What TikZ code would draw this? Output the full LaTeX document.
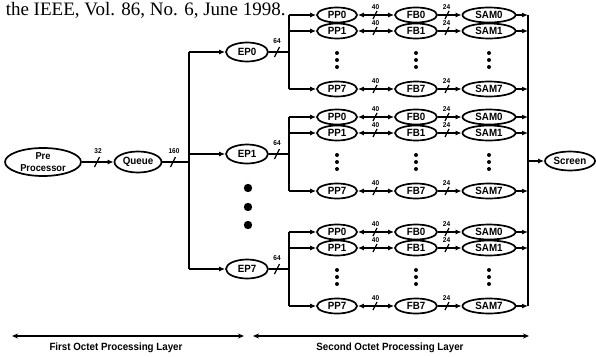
\documentclass[tikz,border=0pt]{standalone}
\usepackage{fontspec}
\setmainfont{Liberation Serif}
\newfontfamily\lab[FakeStretch=0.93]{Liberation Sans}
\usetikzlibrary{arrows.meta,shapes.geometric}
\begin{document}
\begin{tikzpicture}[x=1pt,y=-1pt,line width=1.5pt,
  ov/.style={ellipse,draw,line width=1.7pt,inner sep=0pt,font=\lab\bfseries\fontsize{10.5}{10.5}\selectfont},
  num/.style={font=\lab\bfseries\fontsize{7}{7}\selectfont,inner sep=0pt},
  slashmark/.style={line width=1.2pt},
  arr/.style={-{Latex[length=6pt,width=5pt]}},
  darr/.style={{Latex[length=6pt,width=5pt]}-{Latex[length=6pt,width=5pt]}},
  layer/.style={{Stealth[length=6pt,width=5pt]}-{Stealth[length=6pt,width=5pt]},line width=1.2pt},
  laytext/.style={font=\lab\bfseries\fontsize{10.5}{10.5}\selectfont,inner sep=0pt},
  bigdot/.style={fill=black,draw=none},
  smalldot/.style={fill=black,draw=none}]
\useasboundingbox (0,0) rectangle (596,356);

\node[anchor=base west,inner sep=0pt,font=\fontsize{19}{19}\selectfont] (title) at (5,16) {the IEEE, Vol. 86, No. 6, June 1998.};

% main chain
\node[ov,minimum width=76pt,minimum height=28pt,align=center,font=\lab\bfseries\fontsize{10}{12.5}\selectfont] (pre) at (43,162) {Pre\\Processor};
\node[ov,minimum width=47pt,minimum height=21pt] (queue) at (138,162) {Queue};
\draw[arr] (pre) -- (queue);
\draw[slashmark] (94.5,167) -- (99.5,157);
\node[num] (n32) at (98,151) {32};

\coordinate (bq) at (189,162);
\draw (queue) -- (bq);
\draw[slashmark] (170.5,167) -- (175.5,157);
\node[num] (n160) at (174,151) {160};

\coordinate (btop) at (189,52);
\coordinate (bbot) at (189,269);
\draw (btop) -- (bbot);

% groups
\foreach \g/\b/\ey in {0/15/52,1/117/154,7/232/269}{
  \node[ov,minimum width=42pt,minimum height=19pt] (ep\g) at (247,\ey) {EP\g};
  \coordinate (bl\g) at (189,\ey);
  \draw[arr] (bl\g) -- (ep\g);
  \coordinate (br\g) at (289,\ey);
  \draw (ep\g) -- (br\g);
  \draw[slashmark] (274.5,\ey+5) -- (279.5,\ey-5);
  \node[num] (n64\g) at (277,\ey-11) {64};
  \coordinate (bt\g) at (289,\b);
  \coordinate (bb\g) at (289,\b+74);
  \draw (bt\g) -- (bb\g);
  \foreach \r/\o in {0/0,1/16,7/74}{
    \coordinate (s\g\r) at (289,\b+\o);
    \node[ov,minimum width=40pt,minimum height=15pt] (pp\g\r) at (337,\b+\o) {PP\r};
    \node[ov,minimum width=42pt,minimum height=15pt] (fb\g\r) at (416,\b+\o) {FB\r};
    \node[ov,minimum width=53pt,minimum height=15pt] (sam\g\r) at (489,\b+\o) {SAM\r};
    \coordinate (e\g\r) at (528,\b+\o);
    \draw[arr] (s\g\r) -- (pp\g\r);
    \draw[darr] (pp\g\r) -- (fb\g\r);
    \draw[arr] (fb\g\r) -- (sam\g\r);
    \draw[arr] (sam\g\r) -- (e\g\r);
    \draw[slashmark] (373,\b+\o+4) -- (377,\b+\o-4);
    \node[num] (n40\g\r) at (375.5,\b+\o-8) {40};
    \draw[slashmark] (445,\b+\o+4) -- (449,\b+\o-4);
    \node[num] (n24\g\r) at (446.5,\b+\o-8) {24};
  }
  \foreach \x in {337,416,489}{
    \foreach \d in {38,45,52}{
      \fill[smalldot] (\x,\b+\d) circle (2pt);
    }
  }
}

% big dots
\foreach \d in {188,207,225}{ \fill[bigdot] (248,\d) circle (4.2pt); }

% right bus and screen
\coordinate (rtop) at (528,15);
\coordinate (rbot) at (528,306);
\draw (rtop) -- (rbot);
\coordinate (rs) at (528,161);
\node[ov,minimum width=50pt,minimum height=19pt] (screen) at (570,161) {Screen};
\draw[arr] (rs) -- (screen);

% layers
\coordinate (l1a) at (12,336);
\coordinate (l1b) at (244,336);
\coordinate (l2a) at (253,336);
\coordinate (l2b) at (529,336);
\draw[layer] (l1a) -- (l1b);
\draw[layer] (l2a) -- (l2b);
\node[laytext] (t1) at (116,348) {First Octet Processing Layer};
\node[laytext] (t2) at (390,348) {Second Octet Processing Layer};
\end{tikzpicture}
\end{document}
